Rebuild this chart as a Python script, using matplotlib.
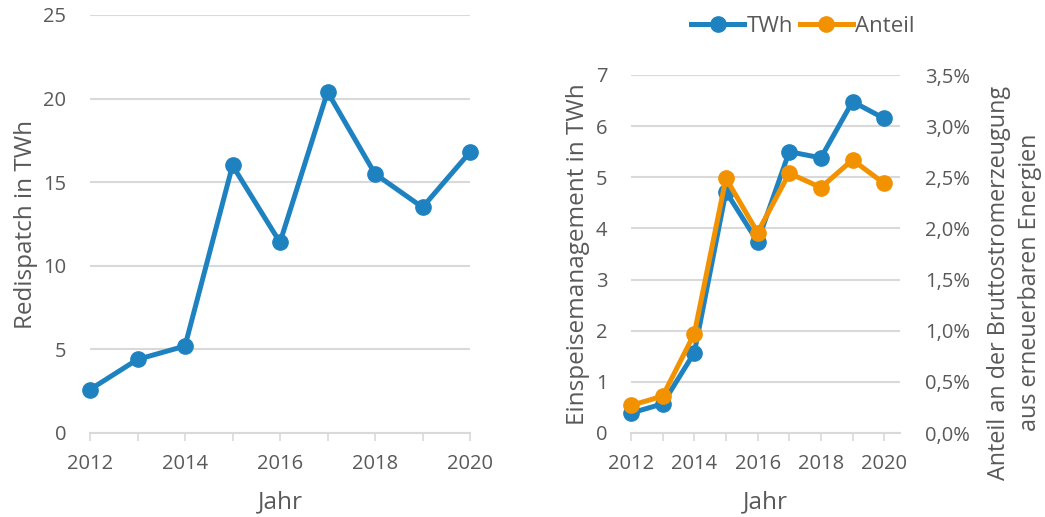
import matplotlib
matplotlib.use('Agg')
from matplotlib import pyplot as plt
from matplotlib.ticker import FuncFormatter, MultipleLocator

# Jahre und Werte
jahre = [2012, 2013, 2014, 2015, 2016, 2017, 2018, 2019, 2020]
redispatch_twh = [2.6, 4.4, 5.2, 16.0, 11.4, 20.4, 15.5, 13.5, 16.8]
einsman_twh = [0.39, 0.57, 1.57, 4.72, 3.74, 5.50, 5.38, 6.48, 6.15]
einsman_anteil = [0.27, 0.36, 0.97, 2.49, 1.96, 2.54, 2.40, 2.67, 2.44]

BLAU = '#1f82c0'
ORANGE = '#f29200'
GRAU = '#595959'
GITTER = '#d9d9d9'
LABEL_SIZE = 17.5

plt.rcParams['font.family'] = ['Open Sans', 'DejaVu Sans']
plt.rcParams['font.size'] = 14.5
plt.rcParams['text.color'] = GRAU
plt.rcParams['axes.labelcolor'] = GRAU
plt.rcParams['xtick.color'] = GRAU
plt.rcParams['ytick.color'] = GRAU

fig = plt.figure(figsize=(10.45, 5.17), dpi=100)


def style_axis(ax):
    for side in ['top', 'right', 'left']:
        ax.spines[side].set_visible(False)
    ax.spines['bottom'].set_color(GITTER)
    ax.spines['bottom'].set_linewidth(1.5)
    ax.grid(axis='y', color=GITTER, linewidth=1.5)
    ax.set_axisbelow(True)
    ax.tick_params(axis='y', length=0, pad=17)
    ax.xaxis.set_major_locator(MultipleLocator(2))
    ax.xaxis.set_minor_locator(MultipleLocator(1))
    ax.tick_params(axis='x', which='both', length=6, color=GITTER, width=1.2, pad=9)


# Linkes Diagramm: Redispatch
ax1 = fig.add_axes([90 / 1045, 84 / 517, 380 / 1045, 418 / 517])
ax1.plot(jahre, redispatch_twh, color=BLAU, linewidth=3.6, marker='o',
         markersize=11, clip_on=False)
ax1.set_xlim(2012, 2020)
ax1.set_ylim(0, 25)
ax1.set_yticks([0, 5, 10, 15, 20, 25])
style_axis(ax1)
ax1.set_xlabel('Jahr', fontsize=LABEL_SIZE, labelpad=12)
ax1.set_ylabel('Redispatch in TWh', fontsize=LABEL_SIZE, labelpad=4)

# Rechtes Diagramm: Einspeisemanagement
ax2 = fig.add_axes([631 / 1045, 84 / 517, 269 / 1045, 358 / 517])
l1, = ax2.plot(jahre, einsman_twh, color=BLAU, linewidth=3.6, marker='o',
               markersize=11, label='TWh', clip_on=False)
ax2.set_xlim(2012, 2020.5)
ax2.set_ylim(0, 7)
ax2.set_yticks(range(8))
style_axis(ax2)
ax2.set_xlabel('Jahr', fontsize=LABEL_SIZE, labelpad=12)
ax2.set_ylabel('Einspeisemanagement in TWh', fontsize=LABEL_SIZE, labelpad=4)

ax3 = ax2.twinx()
l2, = ax3.plot(jahre, einsman_anteil, color=ORANGE, linewidth=3.6, marker='o',
               markersize=11, label='Anteil', clip_on=False)
ax3.set_ylim(0, 3.5)
ax3.set_yticks([0, 0.5, 1, 1.5, 2, 2.5, 3, 3.5])
ax3.yaxis.set_major_formatter(FuncFormatter(lambda v, p: f'{v:.1f}%'.replace('.', ',')))
for side in ['top', 'right', 'left', 'bottom']:
    ax3.spines[side].set_visible(False)
ax3.tick_params(axis='y', length=0, pad=18)
ax3.set_ylabel('Anteil an der Bruttostromerzeugung\naus erneuerbaren Energien',
               fontsize=16.8, labelpad=12, linespacing=1.4)
ax3.yaxis.label.set_y(0.42)

fig.legend(handles=[l1, l2], loc='center', bbox_to_anchor=(803 / 1045, 1 - 26 / 517),
           ncol=2, frameon=False, handlelength=2.4, columnspacing=0.3,
           handletextpad=0.1, fontsize=16)

fig.savefig('out.png', dpi=100)
